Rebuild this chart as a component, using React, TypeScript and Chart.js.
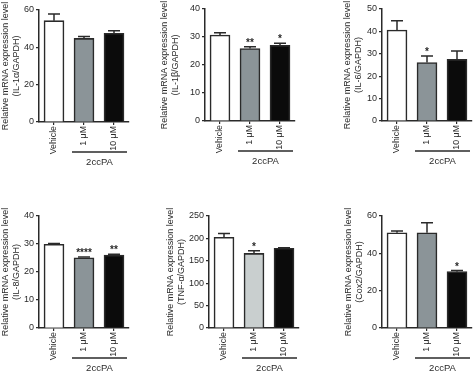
import React, { useEffect, useRef } from "react";
import { Chart, registerables } from "chart.js";

Chart.register(...registerables);

const categories = ["Vehicle", "1 μM", "10 μM"];
const groupLabel = "2ccPA";
const yTitleLine1 = "Relative mRNA expression level";

const il1aMeans = [54.3, 44.8, 47.5];
const il1aSem = [3.5, 1.0, 1.4];
const il1aStars = ["", "", ""];

const il1bMeans = [30.7, 25.9, 27.0];
const il1bSem = [0.8, 0.6, 0.8];
const il1bStars = ["", "**", "*"];

const il6Means = [40.6, 26.1, 27.5];
const il6Sem = [4.2, 2.9, 3.7];
const il6Stars = ["", "*", ""];

const il8Means = [29.9, 25.1, 26.0];
const il8Sem = [0.25, 0.3, 0.3];
const il8Stars = ["", "****", "**"];

const tnfMeans = [202.5, 166.6, 177.8];
const tnfSem = [8.5, 6.0, 1.5];
const tnfStars = ["", "*", ""];

const coxMeans = [51.0, 51.0, 30.2];
const coxSem = [1.0, 5.4, 0.6];
const coxStars = ["", "", "*"];

const FONT = "'Liberation Sans', Arial, Helvetica, sans-serif";
const INK = "#2a2a2a";

type Panel = {
  gene: string;
  means: number[];
  sem: number[];
  stars: string[];
  yMax: number;
  step: number;
  colors: string[];
  left: number; top: number; w: number; h: number;
  axisX: number; plotTop: number; plotBottom: number;
};

const GRAY = "#8b9498";
const LIGHT = "#c9cfcf";
const BLACK = "#0b0b0b";
const WHITE = "#ffffff";

const panels: Panel[] = [
  { gene: "(IL-1α/GAPDH)", means: il1aMeans, sem: il1aSem, stars: il1aStars, yMax: 60, step: 20, colors: [WHITE, GRAY, BLACK],
    left: 0, top: 0, w: 158, h: 185, axisX: 39, plotTop: 10, plotBottom: 122 },
  { gene: "(IL-1β/GAPDH)", means: il1bMeans, sem: il1bSem, stars: il1bStars, yMax: 40, step: 10, colors: [WHITE, GRAY, BLACK],
    left: 159, top: 0, w: 155, h: 185, axisX: 205, plotTop: 9, plotBottom: 121 },
  { gene: "(IL-6/GAPDH)", means: il6Means, sem: il6Sem, stars: il6Stars, yMax: 50, step: 10, colors: [WHITE, GRAY, BLACK],
    left: 342, top: 0, w: 132, h: 185, axisX: 382, plotTop: 9, plotBottom: 121 },
  { gene: "(IL-8/GAPDH)", means: il8Means, sem: il8Sem, stars: il8Stars, yMax: 40, step: 10, colors: [WHITE, GRAY, BLACK],
    left: 0, top: 185, w: 158, h: 186, axisX: 39, plotTop: 216, plotBottom: 328 },
  { gene: "(TNF-α/GAPDH)", means: tnfMeans, sem: tnfSem, stars: tnfStars, yMax: 250, step: 50, colors: [WHITE, LIGHT, BLACK],
    left: 165, top: 185, w: 155, h: 186, axisX: 209, plotTop: 216, plotBottom: 328 },
  { gene: "(Cox2/GAPDH)", means: coxMeans, sem: coxSem, stars: coxStars, yMax: 60, step: 20, colors: [WHITE, GRAY, BLACK],
    left: 343, top: 185, w: 131, h: 186, axisX: 382, plotTop: 216, plotBottom: 328 },
];

const PLOT_W = 90;

const annotPlugin = {
  id: "annot",
  afterDatasetsDraw(chart: any, _args: any, opts: any) {
    const { ctx, scales, chartArea } = chart;
    const x = scales.x;
    const y = scales.y;
    const meta = chart.getDatasetMeta(0);
    const means: number[] = opts.means;
    const sem: number[] = opts.sem;
    const stars: string[] = opts.stars;
    ctx.save();
    ctx.strokeStyle = INK;
    ctx.lineWidth = 1.5;
    meta.data.forEach((bar: any, i: number) => {
      const top = y.getPixelForValue(means[i] + sem[i]);
      const bx = bar.x;
      ctx.beginPath();
      ctx.moveTo(bx, bar.y);
      ctx.lineTo(bx, top);
      ctx.moveTo(bx - 6, top);
      ctx.lineTo(bx + 6, top);
      ctx.stroke();
      if (stars[i]) {
        ctx.fillStyle = INK;
        ctx.font = `bold 10px ${FONT}`;
        ctx.textAlign = "center";
        ctx.textBaseline = "alphabetic";
        ctx.fillText(stars[i], bx, top - 1);
      }
    });
    const x1 = x.getPixelForValue(1) - 12;
    const x2 = x.getPixelForValue(2) + 13;
    const ly = chartArea.bottom + 30;
    ctx.lineWidth = 1.3;
    ctx.beginPath();
    ctx.moveTo(x1, ly);
    ctx.lineTo(x2, ly);
    ctx.stroke();
    ctx.fillStyle = INK;
    ctx.font = `9.5px ${FONT}`;
    ctx.textAlign = "center";
    ctx.textBaseline = "middle";
    ctx.fillText(groupLabel, (x1 + x2) / 2, chartArea.bottom + 40);
    ctx.restore();
  },
};

function BarPanel({ p }: { p: Panel }) {
  const ref = useRef<HTMLCanvasElement>(null);
  useEffect(() => {
    if (!ref.current) return;
    const yW = p.axisX - p.left;
    const padTop = p.plotTop - p.top;
    const padRight = p.w - (yW + PLOT_W);
    const xH = p.h - (p.plotBottom - p.top);
    const chart = new Chart(ref.current, {
      type: "bar",
      data: {
        labels: categories,
        datasets: [
          {
            data: p.means,
            backgroundColor: p.colors,
            borderColor: INK,
            borderWidth: 1.6,
            barThickness: 20,
          },
        ],
      },
      options: {
        animation: false,
        responsive: false,
        devicePixelRatio: 1,
        layout: { padding: { top: padTop, right: padRight, left: 0, bottom: 0 } },
        plugins: {
          legend: { display: false },
          tooltip: { enabled: false },
          annot: { means: p.means, sem: p.sem, stars: p.stars },
        } as any,
        scales: {
          x: {
            ticks: {
              font: { size: 8.8, family: FONT },
              color: INK,
              padding: 1,
              minRotation: 90,
              maxRotation: 90,
            },
            grid: {
              offset: false,
              drawOnChartArea: false,
              drawTicks: true,
              tickLength: 3,
              color: INK,
              lineWidth: 1.2,
            },
            border: { display: true, color: INK, width: 1.5 },
            afterFit: (s: any) => {
              s.height = xH;
            },
          },
          y: {
            min: 0,
            max: p.yMax,
            ticks: {
              stepSize: p.step,
              font: { size: 9, family: FONT },
              color: INK,
              padding: 2,
            },
            grid: {
              drawOnChartArea: false,
              drawTicks: true,
              tickLength: 3,
              color: INK,
              lineWidth: 1.2,
            },
            border: { display: true, color: INK, width: 1.5 },
            title: {
              display: true,
              text: [yTitleLine1, p.gene],
              font: { size: 9, family: FONT },
              color: INK,
              padding: 0,
            },
            afterFit: (s: any) => {
              s.width = yW;
            },
          },
        },
      },
      plugins: [annotPlugin],
    });
    return () => chart.destroy();
  }, [p]);
  return (
    <canvas
      ref={ref}
      width={p.w}
      height={p.h}
      style={{ position: "absolute", left: p.left, top: p.top, width: p.w, height: p.h }}
    />
  );
}

export default function App() {
  return (
    <div
      style={{
        position: "fixed",
        left: 0,
        top: 0,
        width: 474,
        height: 371,
        overflow: "hidden",
        background: "#ffffff",
      }}
    >
      {panels.map((p, i) => (
        <BarPanel key={i} p={p} />
      ))}
    </div>
  );
}
